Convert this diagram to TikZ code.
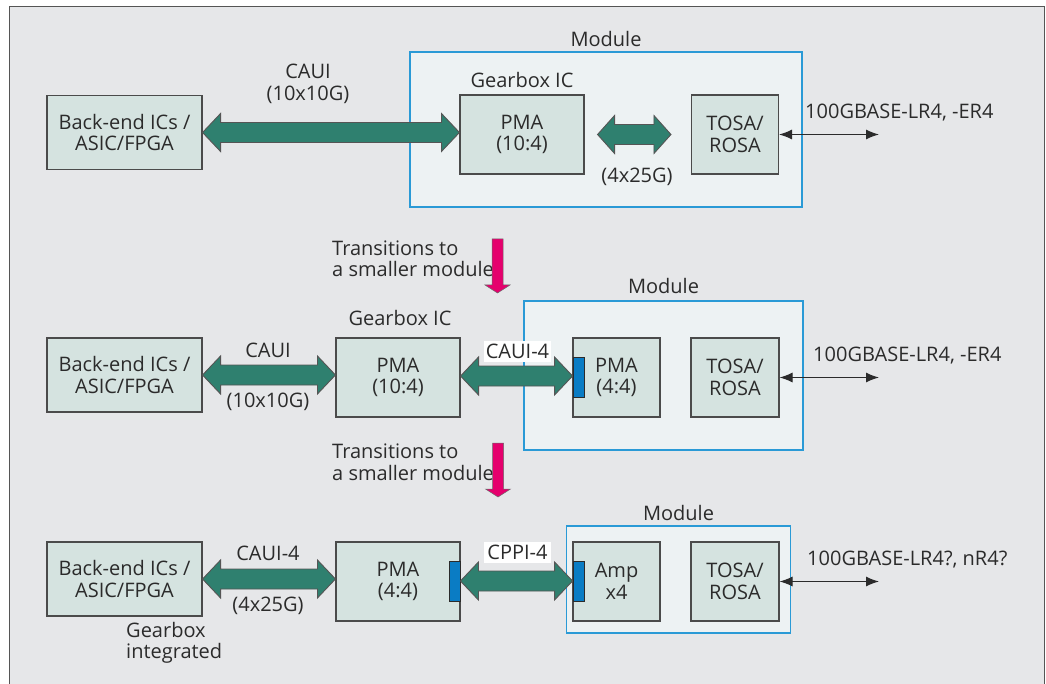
\documentclass[tikz,border=0pt]{standalone}
\usepackage{fontspec}
\setmainfont{Open Sans}
\usetikzlibrary{arrows.meta,calc}

\definecolor{bggray}{HTML}{E6E7E9}
\definecolor{boxfill}{HTML}{D5E3E0}
\definecolor{modfill}{HTML}{EDF2F3}
\definecolor{modline}{HTML}{2A9AD6}
\definecolor{busgreen}{HTML}{2F806F}
\definecolor{stepmagenta}{HTML}{E5006D}
\definecolor{tabblue}{HTML}{0A7CC4}
\definecolor{ink}{HTML}{2B2B2B}

% horizontal double-headed bus arrow between two points (same height as the first)
\newcommand{\busarrow}[3][18]{%
  \draw[busstyle] let \p1=#2, \p2=#3 in
    (\x1,\y1) -- (\x1+#1pt,\y1+19pt) -- (\x1+#1pt,\y1+10pt) -- (\x2-#1pt,\y1+10pt)
    -- (\x2-#1pt,\y1+19pt) -- (\x2,\y1) -- (\x2-#1pt,\y1-19pt) -- (\x2-#1pt,\y1-10pt)
    -- (\x1+#1pt,\y1-10pt) -- (\x1+#1pt,\y1-19pt) -- cycle;}

% downward transition arrow from a top coordinate
\newcommand{\transarrow}[1]{%
  \draw[stepstyle] let \p1=#1 in
    (\x1-5.5pt,\y1) -- (\x1+5.5pt,\y1) -- (\x1+5.5pt,\y1-46pt) -- (\x1+12.5pt,\y1-46pt)
    -- (\x1,\y1-54pt) -- (\x1-12.5pt,\y1-46pt) -- (\x1-5.5pt,\y1-46pt) -- cycle;}

\begin{document}
\begin{tikzpicture}[x=1pt,y=-1pt,
  font=\fontsize{20}{21.5}\selectfont, text=ink,
  blk/.style={draw=ink!85, line width=1.1pt, fill=boxfill, align=center, inner sep=0pt},
  module/.style={draw=modline, line width=1.2pt, fill=modfill, inner sep=0pt},
  tab/.style={draw=ink, line width=0.9pt, fill=tabblue, inner sep=0pt,
    minimum width=11pt, minimum height=40pt},
  lbl/.style={inner sep=0pt, align=center},
  whitelbl/.style={fill=white, inner sep=0pt, minimum width=67pt, minimum height=21pt},
  busstyle/.style={fill=busgreen, draw=ink!80, line width=0.9pt, line join=miter},
  stepstyle/.style={fill=stepmagenta, draw=ink!70, line width=0.5pt},
  fiber/.style={draw=ink, line width=1.1pt, {Latex[length=13pt,width=10pt]}-{Latex[length=13pt,width=10pt]}}]

\useasboundingbox (0,0) rectangle (1046,684);
\clip (0,0) rectangle (1046,684);
\fill[white] (0,0) rectangle (1046,684);
\draw[fill=bggray, draw=ink!80, line width=1pt] (9,7) rectangle (1044,700);

% ---------- first generation: gearbox inside the module ----------
\node[module, minimum width=392pt, minimum height=155pt] (mod1) at (606,129.5) {};
\node[lbl] (mod1lbl) at (606,39) {Module};
\node[blk, minimum width=155pt, minimum height=74pt] (be1) at (124.5,132.5) {Back-end ICs /\\ASIC/FPGA};
\node[blk, minimum width=124pt, minimum height=79pt] (pma1) at (522,134.5) {PMA\\(10:4)};
\node[lbl] (gb1) at (522,80) {Gearbox IC};
\node[blk, minimum width=87pt, minimum height=79pt] (tosa1) at (735,134.5) {TOSA/\\ROSA};
\node[lbl] (caui1) at (308,84) {CAUI\\(10x10G)};
\node[lbl] (lane1) at (637,177) {(4x25G)};
\coordinate (out1) at (879,133);
\node[lbl, anchor=west] (pmd1) at (805,113) {100GBASE-LR4, -ER4};

\busarrow{(be1.east)}{(pma1.west)}
\busarrow[17]{($(pma1.east)+(13,0)$)}{($(tosa1.west)+(-20,0)$)}
\draw[fiber] (tosa1.east) -- (out1 |- tosa1.east);

% ---------- transition ----------
\node[lbl, align=left, anchor=west] (tr1) at (332,259) {Transitions to\\a smaller module};
\coordinate (tr1top) at (497.5,239);
\transarrow{(tr1top)}

% ---------- second generation: gearbox on the host ----------
\node[module, minimum width=279pt, minimum height=149pt] (mod2) at (663.5,375.5) {};
\node[lbl] (mod2lbl) at (663.5,286) {Module};
\node[blk, minimum width=155pt, minimum height=74pt] (be2) at (124.5,375) {Back-end ICs /\\ASIC/FPGA};
\node[blk, minimum width=124pt, minimum height=79pt] (pma2) at (398,377.5) {PMA\\(10:4)};
\node[lbl] (gb2) at (400,318) {Gearbox IC};
\node[blk, minimum width=87pt, minimum height=79pt] (pma3) at (616.5,377.5) {PMA\\(4:4)};
\node[tab] (tab2) at (578.5,377) {};
\node[blk, minimum width=88pt, minimum height=79pt] (tosa2) at (735,377.5) {TOSA/\\ROSA};
\node[lbl] (caui2) at (268,350) {CAUI};
\node[lbl] (lane2) at (268,402) {(10x10G)};
\coordinate (out2) at (879,377);
\node[lbl, anchor=west] (pmd2) at (813,356) {100GBASE-LR4, -ER4};

\busarrow{(be2.east)}{(pma2.west)}
\busarrow{($(pma2.east)+(0,-1.5)$)}{(tab2.west)}
\node[whitelbl] (caui4a) at (517.5,351) {CAUI-4};
\draw[fiber] (tosa2.east) -- (out2 |- tosa2.east);

% ---------- transition ----------
\node[lbl, align=left, anchor=west] (tr2) at (332,462.5) {Transitions to\\a smaller module};
\coordinate (tr2top) at (498,443);
\transarrow{(tr2top)}

% ---------- third generation: gearbox integrated in the host IC ----------
\node[module, minimum width=224pt, minimum height=107pt] (mod3) at (678.5,579.5) {};
\node[lbl] (mod3lbl) at (678.5,513) {Module};
\node[blk, minimum width=155pt, minimum height=74pt] (be3) at (124.5,579) {Back-end ICs /\\ASIC/FPGA};
\node[lbl, align=left, anchor=west] (gbint) at (126,643) {Gearbox\\integrated};
\node[blk, minimum width=124pt, minimum height=79pt] (pma4) at (398,581.5) {PMA\\(4:4)};
\node[tab] (tab3) at (454.5,581) {};
\node[blk, minimum width=87pt, minimum height=79pt] (amp) at (616.5,581.5) {Amp\\x4};
\node[tab] (tab4) at (578.5,581) {};
\node[blk, minimum width=88pt, minimum height=79pt] (tosa3) at (735,581.5) {TOSA/\\ROSA};
\node[lbl] (caui4b) at (268,553) {CAUI-4};
\node[lbl] (lane3) at (268,606) {(4x25G)};
\coordinate (out3) at (879,579);
\node[lbl, anchor=west] (pmd3) at (807,560) {100GBASE-LR4?, nR4?};

\busarrow{(be3.east)}{(pma4.west)}
\busarrow{(tab3.east)}{(tab4.west)}
\node[whitelbl] (cppi) at (517.5,552.5) {CPPI-4};
\draw[fiber] (tosa3.east) -- (out3 |- tosa3.east);

\end{tikzpicture}
\end{document}
